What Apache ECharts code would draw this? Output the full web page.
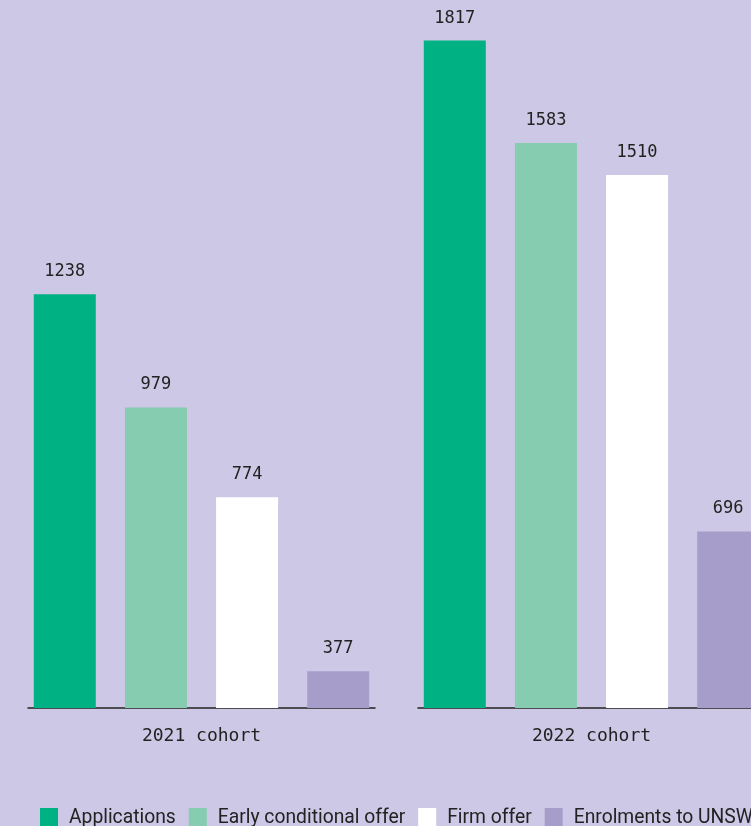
<!DOCTYPE html>
<html>
<head>
<meta charset="utf-8">
<script src="https://cdn.jsdelivr.net/npm/echarts@6/dist/echarts.min.js"></script>
<style>
html,body{margin:0;padding:0;background:#cdc8e5;overflow:hidden;width:751px;height:826px;}
#chart{width:820px;height:826px;}
</style>
</head>
<body>
<div id="chart"></div>
<script>
const categories = ['2021 cohort', '2022 cohort'];
const seriesNames = ['Applications', 'Early conditional offer', 'Firm offer', 'Enrolments to UNSW'];
const applications = [1238, 1817];
const earlyOffer = [979, 1583];
const firmOffer = [774, 1510];
const enrolments = [377, 696];

const seriesValues = [applications, earlyOffer, firmOffer, enrolments];
const colors = ['#00b184', '#86ccb0', '#ffffff', '#a69dcb'];

const chart = echarts.init(document.getElementById('chart'));
const grids = [
  {left: 28, width: 347, top: 20, bottom: 118},
  {left: 418, width: 347, top: 20, bottom: 118}
];
const xAxes = categories.map((c, i) => ({
  type: 'category', gridIndex: i, data: [c],
  axisLine: {show: true, lineStyle: {color: '#222', width: 1.5}},
  axisTick: {show: false},
  axisLabel: {color: '#222', fontFamily: 'DejaVu Sans Mono', fontSize: 18, margin: 19}
}));
const yAxes = categories.map((c, i) => ({
  type: 'value', gridIndex: i, min: 293, max: 1864,
  show: false, splitLine: {show: false}
}));
const series = [];
categories.forEach((c, gi) => {
  seriesNames.forEach((name, si) => {
    series.push({
      name: name, type: 'bar', xAxisIndex: gi, yAxisIndex: gi,
      data: [seriesValues[si][gi]],
      barWidth: 62, barGap: '47%',
      itemStyle: {color: colors[si]},
      label: {show: true, position: 'top', distance: 14, color: '#222',
              fontFamily: 'DejaVu Sans Mono', fontSize: 17},
      animation: false
    });
  });
});
chart.setOption({
  backgroundColor: '#cdc8e5',
  animation: false,
  color: colors,
  grid: grids,
  xAxis: xAxes,
  yAxis: yAxes,
  legend: {
    data: seriesNames, left: 40, top: 808, padding: 0,
    itemWidth: 18, itemHeight: 20, itemGap: 13,
    icon: 'rect',
    textStyle: {color: '#222', fontFamily: 'Roboto', fontSize: 19.3, padding: [0, 0, 0, 6]}
  },
  series: series
});
</script>
</body>
</html>
